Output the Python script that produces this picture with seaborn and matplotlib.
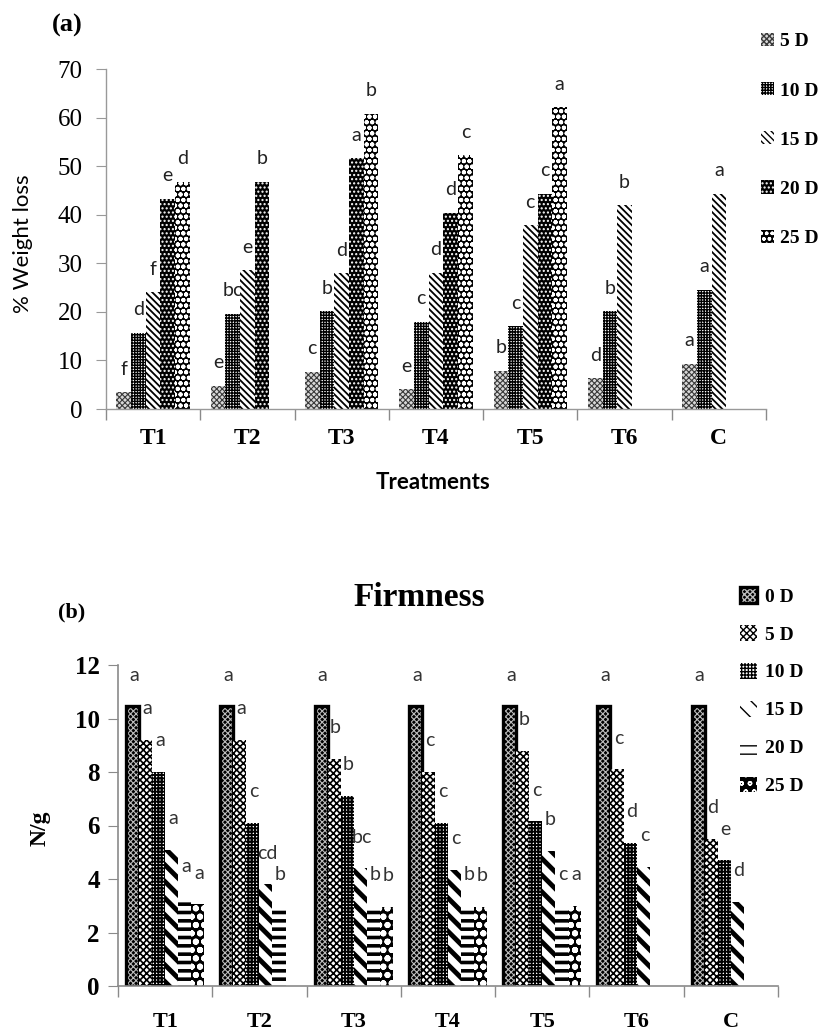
import numpy as np
import pandas as pd
import matplotlib
matplotlib.use("Agg")
import matplotlib.pyplot as plt
import matplotlib.colors as mcolors
import matplotlib.patches as mpatches
import seaborn as sns

nan = np.nan
treatments = ["T1", "T2", "T3", "T4", "T5", "T6", "C"]

# ---------------- (a) % weight loss ----------------
wl_days = ["5 D", "10 D", "15 D", "20 D", "25 D"]
wl_5d = [3.5, 4.8, 7.7, 4.1, 7.9, 6.4, 9.3]
wl_10d = [15.7, 19.6, 20.1, 18.0, 17.0, 20.1, 24.6]
wl_15d = [24.0, 28.6, 27.9, 28.1, 37.9, 41.9, 44.3]
wl_20d = [43.3, 46.8, 51.6, 40.4, 44.3, nan, nan]
wl_25d = [46.8, nan, 60.8, 52.2, 62.1, nan, nan]
wl_let_5d = ["f", "e", "c", "e", "b", "d", "a"]
wl_let_10d = ["d", "bc", "b", "c", "c", "b", "a"]
wl_let_15d = ["f", "e", "d", "d", "c", "b", "a"]
wl_let_20d = ["e", "b", "a", "d", "c", "", ""]
wl_let_25d = ["d", "", "b", "c", "a", "", ""]

# ---------------- (b) firmness ----------------
fm_days = ["0 D", "5 D", "10 D", "15 D", "20 D", "25 D"]
fm_0d = [10.45, 10.45, 10.45, 10.45, 10.45, 10.45, 10.45]
fm_5d = [9.2, 9.2, 8.5, 8.0, 8.8, 8.1, 5.5]
fm_10d = [8.0, 6.1, 7.1, 6.1, 6.15, 5.35, 4.7]
fm_15d = [5.1, 3.8, 4.4, 4.35, 5.05, 4.45, 3.15]
fm_20d = [3.3, 3.0, 3.0, 3.0, 3.0, nan, nan]
fm_25d = [3.05, nan, 2.95, 2.95, 3.0, nan, nan]
fm_let_0d = ["a", "a", "a", "a", "a", "a", "a"]
fm_let_5d = ["a", "a", "b", "c", "b", "c", "d"]
fm_let_10d = ["a", "c", "b", "c", "c", "d", "e"]
fm_let_15d = ["a", "cd", "bc", "c", "b", "c", "d"]
fm_let_20d = ["a", "b", "b", "b", "c", "", ""]
fm_let_25d = ["a", "", "b", "b", "a", "", ""]

SERIF = ["Liberation Serif", "DejaVu Serif"]
SANS = ["Lato", "DejaVu Sans"]
plt.rcParams["font.family"] = SERIF
plt.rcParams["hatch.linewidth"] = 1.0


def long_df(days, series):
    rows = []
    for d, vals in zip(days, series):
        for t, v in zip(treatments, vals):
            rows.append({"Treatment": t, "Day": d, "value": v})
    return pd.DataFrame(rows).dropna()


def apply_style(p, face, hatch, hcolor, hlw, edge=None, lw=0.0):
    p.set_facecolor(face)
    p.set_hatch(hatch)
    if hasattr(p, "set_hatchcolor"):
        p.set_edgecolor(edge if edge is not None else hcolor)
        p.set_hatchcolor(hcolor)
    else:
        p.set_edgecolor(edge if edge is not None else hcolor)
        p._hatch_color = mcolors.to_rgba(hcolor)
    p.set_linewidth(lw)
    if hasattr(p, "set_hatch_linewidth"):
        p.set_hatch_linewidth(hlw)


ident = sns.color_palette("tab10", 10)

fig = plt.figure(figsize=(8.27, 10.36), dpi=100)
W, H = 827.0, 1036.0
axA = fig.add_axes([106 / W, 1 - 409 / H, 660 / W, 340 / H])
axB = fig.add_axes([118 / W, 1 - 986 / H, 660 / W, 321 / H])


def draw_panel(ax, days, series, letters, styles, width, lab_kw):
    df = long_df(days, series)
    pal = {d: ident[i] for i, d in enumerate(days)}
    sns.barplot(data=df, x="Treatment", y="value", hue="Day", order=treatments,
                hue_order=days, palette=pal, saturation=1, width=width,
                errorbar=None, legend=False, ax=ax)
    info = []
    for p in ax.patches:
        h = p.get_height()
        if not np.isfinite(h):
            continue
        fc = np.array(p.get_facecolor()[:3])
        hi = int(np.argmin([np.abs(fc - np.array(ident[i])).sum() for i in range(len(days))]))
        xc = p.get_x() + p.get_width() / 2
        ci = int(round(xc))
        info.append((p, hi, ci, xc, h))
    for p, hi, ci, xc, h in info:
        apply_style(p, **styles[hi])
        txt = letters[hi][ci]
        if txt:
            ax.annotate(txt, xy=(xc, h), **lab_kw)
    handles = []
    for i in range(len(days)):
        hp = mpatches.Patch()
        apply_style(hp, **styles[i])
        handles.append(hp)
    return handles


stylesA = [
    dict(face="#d8d8d8", hatch="xxxxxx", hcolor="#3a3a3a", hlw=0.8),
    dict(face="white", hatch="++++++", hcolor="black", hlw=1.0),
    dict(face="white", hatch="\\\\\\\\\\", hcolor="black", hlw=1.3),
    dict(face="black", hatch="....", hcolor="white", hlw=1.0),
    dict(face="black", hatch="ooo", hcolor="white", hlw=1.4),
]
lettersA = [wl_let_5d, wl_let_10d, wl_let_15d, wl_let_20d, wl_let_25d]
labA = dict(xytext=(0, 12.5), textcoords="offset points", ha="center", va="baseline",
            fontsize=14, family=SANS, color="#222222")
hA = draw_panel(axA, wl_days, [wl_5d, wl_10d, wl_15d, wl_20d, wl_25d], lettersA,
                stylesA, 0.78, labA)

stylesB = [
    dict(face="black", hatch="xxxxxx", hcolor="#bdbdbd", hlw=0.8, edge="black", lw=2.4),
    dict(face="white", hatch="xxxxx", hcolor="black", hlw=1.2),
    dict(face="white", hatch="+++++", hcolor="black", hlw=1.4),
    dict(face="white", hatch="\\\\", hcolor="black", hlw=3.5),
    dict(face="white", hatch="--", hcolor="black", hlw=2.6),
    dict(face="black", hatch="oo", hcolor="white", hlw=2.0),
]
lettersB = [fm_let_0d, fm_let_5d, fm_let_10d, fm_let_15d, fm_let_20d, fm_let_25d]
labB = dict(xytext=(1, 18.5), textcoords="offset points", ha="center", va="baseline",
            fontsize=14, family=SANS, color="#333333")
hB = draw_panel(axB, fm_days, [fm_0d, fm_5d, fm_10d, fm_15d, fm_20d, fm_25d], lettersB,
                stylesB, 0.83, labB)

# ---------- axes formatting ----------
for ax, ymax, step in ((axA, 70, 10), (axB, 12, 2)):
    ax.set_xlim(-0.5, 6.5)
    ax.set_ylim(0, ymax)
    ax.set_yticks(np.arange(0, ymax + 0.1, step))
    ax.set_xticks(np.arange(-0.5, 7, 1.0), minor=True)
    ax.set_xlabel("")
    ax.set_ylabel("")
    ax.spines["top"].set_visible(False)
    ax.spines["right"].set_visible(False)
    ax.tick_params(axis="x", which="major", length=0)
    ax.tick_params(axis="x", which="minor", length=8, direction="out", color="#8a8a8a", width=1)
    ax.set_facecolor("none")

for s in ("left", "bottom"):
    axA.spines[s].set_color("#999999")
    axB.spines[s].set_color("#8a8a8a")
    axA.spines[s].set_linewidth(1.0)
    axB.spines[s].set_linewidth(1.2)

axA.tick_params(axis="y", length=7, direction="out", color="#999999", pad=10)
axA.tick_params(axis="x", which="major", pad=14)
for lbl in axA.get_yticklabels():
    lbl.set_fontsize(18)
    lbl.set_fontfamily(SERIF)
for lbl in axA.get_xticklabels():
    lbl.set_fontsize(17)
    lbl.set_fontweight("bold")
    lbl.set_fontfamily(SERIF)

axB.tick_params(axis="y", length=7, direction="out", color="#8a8a8a", pad=6)
axB.tick_params(axis="x", which="major", pad=19)
for lbl in axB.get_yticklabels():
    lbl.set_fontsize(18)
    lbl.set_fontweight("bold")
    lbl.set_fontfamily(SERIF)
for lbl in axB.get_xticklabels():
    lbl.set_fontsize(16)
    lbl.set_fontweight("bold")
    lbl.set_fontfamily(SERIF)

# ---------- texts ----------
fig.text(52 / W, 1 - 25 / H, "(a)", fontsize=19, fontweight="bold", family=SERIF,
         ha="left", va="center")
fig.text(23 / W, 1 - 244 / H, "% Weight loss", fontsize=16, family=SANS, rotation=90,
         ha="center", va="center")
fig.text(433 / W, 1 - 482 / H, "Treatments", fontsize=16, fontweight="bold", family=SANS,
         ha="center", va="center")

fig.text(58 / W, 1 - 612 / H, "(b)", fontsize=16, fontweight="bold", family=SERIF,
         ha="left", va="center")
fig.text(419 / W, 1 - 598 / H, "Firmness", fontsize=24, fontweight="bold", family=SERIF,
         ha="center", va="center")
fig.text(40 / W, 1 - 828 / H, "N/g", fontsize=17, fontweight="bold", family=SERIF,
         rotation=90, ha="center", va="center")

# ---------- legends ----------
fig.legend(hA, wl_days, loc="upper left", bbox_to_anchor=(761 / W, 1 - 33 / H),
           frameon=False, borderpad=0, borderaxespad=0, handlelength=0.67,
           handleheight=0.67, handletextpad=0.3, labelspacing=1.63,
           prop=dict(family=SERIF, weight="bold", size=14))
fig.legend(hB, fm_days, loc="upper left", bbox_to_anchor=(740 / W, 1 - 587 / H),
           frameon=False, borderpad=0, borderaxespad=0, handlelength=0.88,
           handleheight=0.88, handletextpad=0.4, labelspacing=0.99,
           prop=dict(family=SERIF, weight="bold", size=14))

fig.savefig("out.png", dpi=100)
